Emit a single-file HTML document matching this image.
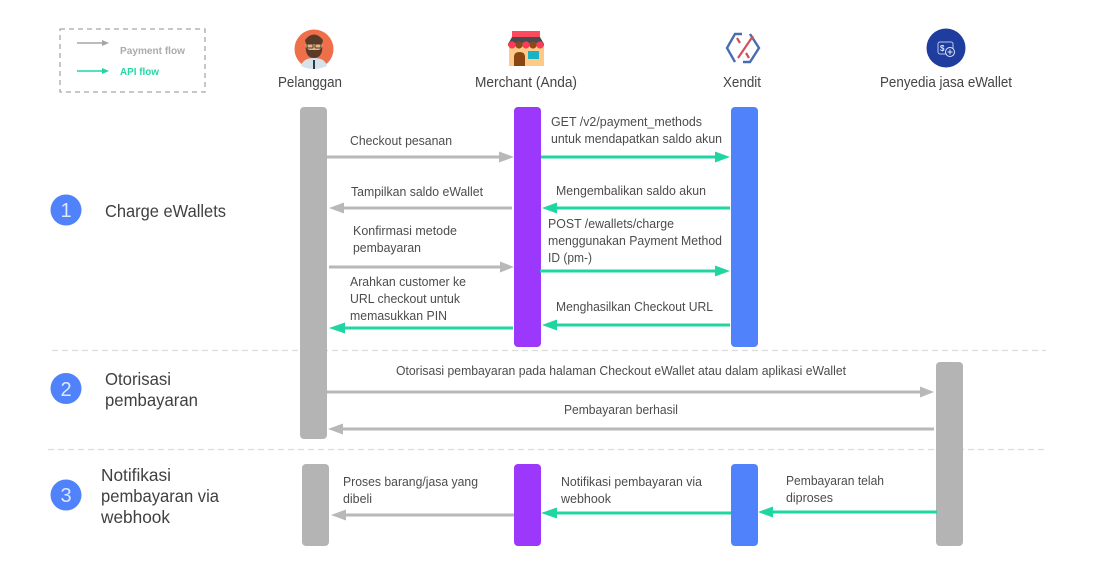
<!DOCTYPE html>
<html><head><meta charset="utf-8">
<style>
html,body{margin:0;padding:0;background:#fff;width:1120px;height:574px;overflow:hidden}
svg{display:block}
text{font-family:"Liberation Sans",sans-serif;font-size:13px;fill:#4c4c4c}
.h{font-size:14.5px;fill:#444}
.s{font-size:17.5px;fill:#404040}
.n{font-size:20px;fill:#dfe8ff;text-anchor:middle}
.l{font-size:10px;font-weight:bold}
.g{stroke:#b8b8b8;stroke-width:3;fill:none}
.t{stroke:#1fd6a2;stroke-width:3;fill:none}
</style></head><body>
<svg width="1120" height="574" viewBox="0 0 1120 574" xmlns="http://www.w3.org/2000/svg">
<rect x="60" y="29" width="145" height="63" fill="none" stroke="#a8a8a8" stroke-width="1.3" stroke-dasharray="5 4"/>
<path d="M77 43H104" stroke="#a5a5a5" stroke-width="1.5"/><path d="M102 40L109 43L102 46Z" fill="#a5a5a5"/>
<path d="M77 71H104" stroke="#1fd6a2" stroke-width="1.5"/><path d="M102 68L109 71L102 74Z" fill="#1fd6a2"/>
<text class="l" x="120" y="54" style="fill:#ababab" textLength="65" lengthAdjust="spacingAndGlyphs">Payment flow</text>
<text class="l" x="120" y="75" style="fill:#25d7a5" textLength="39" lengthAdjust="spacingAndGlyphs">API flow</text>

<circle cx="314" cy="49" r="19.5" fill="#ee6f4a"/>
<path d="M301 66Q303 58 314 58Q325 58 327 66Q320 69 314 69Q307 69 301 66Z" fill="#d4e3ea"/>
<rect x="313" y="60" width="2" height="9" fill="#2d3a42"/>
<ellipse cx="314" cy="47" rx="8.500" ry="10" fill="#e4b487"/>
<path d="M305 40Q314 29 323 40L322 44H306Z" fill="#5a3b28"/>
<path d="M305.500 47Q306 58 314 58Q322 58 322.500 47L319 50H309Z" fill="#5b3a26"/>
<rect x="307" y="44" width="6" height="4" rx="1" fill="none" stroke="#4d3a2c"/><rect x="315" y="44" width="6" height="4" rx="1" fill="none" stroke="#4d3a2c"/>

<rect x="509" y="46" width="35" height="20" fill="#ffc987"/>
<rect x="512" y="31" width="28" height="6" fill="#fd4a5c"/>
<path d="M512 37H540L544 44H508Z" fill="#4a4a50"/>
<rect x="508" y="43" width="36" height="3" fill="#fd3a58"/>
<circle cx="512" cy="45" r="3.6" fill="#fd3a58"/><circle cx="519" cy="45" r="3.6" fill="#8b4a18"/><circle cx="526" cy="45" r="3.6" fill="#fd3a58"/><circle cx="533" cy="45" r="3.6" fill="#8b4a18"/><circle cx="540" cy="45" r="3.6" fill="#fd3a58"/>
<path d="M514 66V57Q514 52 519.500 52Q525 52 525 57V66Z" fill="#8b4513"/>
<rect x="528" y="51" width="11" height="8" fill="#17b3c6"/>

<path d="M742 34H735L727 48L735 62" fill="none" stroke="#4a6cb3" stroke-width="2.4"/>
<path d="M750 34L759 48L750 62H743" fill="none" stroke="#4a6cb3" stroke-width="2.4"/>
<path d="M738 58L753 36M737 38L740 43M749 58L746 53" fill="none" stroke="#d0505c" stroke-width="2.2"/>

<circle cx="946" cy="48" r="19.500" fill="#1f3d9e"/>
<rect x="938" y="42" width="15" height="12" rx="2" fill="none" stroke="#b9c6ee" stroke-width="1"/>
<text x="940" y="51" style="font-size:8px;fill:#dfe6fb;font-weight:bold">$</text>
<circle cx="950" cy="52" r="4.500" fill="#1f3d9e" stroke="#dfe6fb"/><path d="M947.500 52H952.500M950 49.500V54.500" stroke="#dfe6fb"/>

<text class="h" x="278" y="87" textLength="64" lengthAdjust="spacingAndGlyphs">Pelanggan</text>
<text class="h" x="475" y="87" textLength="102" lengthAdjust="spacingAndGlyphs">Merchant (Anda)</text>
<text class="h" x="723" y="87" textLength="38" lengthAdjust="spacingAndGlyphs">Xendit</text>
<text class="h" x="880" y="87" textLength="132" lengthAdjust="spacingAndGlyphs">Penyedia jasa eWallet</text>

<path d="M52 350.500H1046M48 449.500H1048" stroke="#dcdcdc" stroke-width="1.2" stroke-dasharray="6 4"/>

<circle cx="66" cy="210" r="15.500" fill="#4f82fb"/><text class="n" x="66" y="217">1</text>
<circle cx="66" cy="388.500" r="15.500" fill="#4f82fb"/><text class="n" x="66" y="396">2</text>
<circle cx="66" cy="495" r="15.500" fill="#4f82fb"/><text class="n" x="66" y="502">3</text>
<text class="s" x="105" y="217" textLength="121" lengthAdjust="spacingAndGlyphs">Charge eWallets</text>
<text class="s" x="105" y="385" textLength="66" lengthAdjust="spacingAndGlyphs">Otorisasi</text>
<text class="s" x="105" y="406" textLength="93" lengthAdjust="spacingAndGlyphs">pembayaran</text>
<text class="s" x="101" y="481" textLength="70" lengthAdjust="spacingAndGlyphs">Notifikasi</text>
<text class="s" x="101" y="502" textLength="118" lengthAdjust="spacingAndGlyphs">pembayaran via</text>
<text class="s" x="101" y="523" textLength="69" lengthAdjust="spacingAndGlyphs">webhook</text>

<rect x="300" y="107" width="27" height="332" rx="4" fill="#b4b4b4"/>
<rect x="514" y="107" width="27" height="240" rx="4" fill="#9b38fb"/>
<rect x="731" y="107" width="27" height="240" rx="4" fill="#4f82fb"/>
<rect x="936" y="362" width="27" height="184" rx="4" fill="#b4b4b4"/>
<rect x="302" y="464" width="27" height="82" rx="4" fill="#b4b4b4"/>
<rect x="514" y="464" width="27" height="82" rx="4" fill="#9b38fb"/>
<rect x="731" y="464" width="27" height="82" rx="4" fill="#4f82fb"/>

<path class="g" d="M327 157H501"/><path d="M499 151.500L514 157L499 162.500Z" fill="#b8b8b8"/>
<path class="g" d="M342 208H512"/><path d="M344 202.500L329 208L344 213.500Z" fill="#b8b8b8"/>
<path class="g" d="M329 267H502"/><path d="M500 261.500L514 267L500 272.500Z" fill="#b8b8b8"/>
<path class="g" d="M327 392H922"/><path d="M920 386.500L934 392L920 397.500Z" fill="#b8b8b8"/>
<path class="g" d="M342 429H934"/><path d="M343 423.500L328 429L343 434.500Z" fill="#b8b8b8"/>
<path class="g" d="M344 515H514"/><path d="M346 509.500L331 515L346 520.500Z" fill="#b8b8b8"/>

<path class="t" d="M541 157H717"/><path d="M715 151.500L730 157L715 162.500Z" fill="#1fd6a2"/>
<path class="t" d="M556 208H730"/><path d="M557 202.500L542 208L557 213.500Z" fill="#1fd6a2"/>
<path class="t" d="M540 271H717"/><path d="M715 265.500L730 271L715 276.500Z" fill="#1fd6a2"/>
<path class="t" d="M343 328H513"/><path d="M345 322.500L329 328L345 333.500Z" fill="#1fd6a2"/>
<path class="t" d="M556 325H730"/><path d="M557 319.500L542 325L557 330.500Z" fill="#1fd6a2"/>
<path class="t" d="M556 513H731"/><path d="M557 507.500L541 513L557 518.500Z" fill="#1fd6a2"/>
<path class="t" d="M772 512H937"/><path d="M773 506.500L758 512L773 517.500Z" fill="#1fd6a2"/>

<text x="350" y="145" textLength="102" lengthAdjust="spacingAndGlyphs">Checkout pesanan</text>
<text x="351" y="196" textLength="132" lengthAdjust="spacingAndGlyphs">Tampilkan saldo eWallet</text>
<text x="353" y="235" textLength="104" lengthAdjust="spacingAndGlyphs">Konfirmasi metode</text>
<text x="353" y="252" textLength="68" lengthAdjust="spacingAndGlyphs">pembayaran</text>
<text x="350" y="286" textLength="116" lengthAdjust="spacingAndGlyphs">Arahkan customer ke</text>
<text x="350" y="303" textLength="110" lengthAdjust="spacingAndGlyphs">URL checkout untuk</text>
<text x="350" y="320" textLength="97" lengthAdjust="spacingAndGlyphs">memasukkan PIN</text>
<text x="551" y="126" textLength="151" lengthAdjust="spacingAndGlyphs">GET /v2/payment_methods</text>
<text x="551" y="143" textLength="171" lengthAdjust="spacingAndGlyphs">untuk mendapatkan saldo akun</text>
<text x="556" y="195" textLength="150" lengthAdjust="spacingAndGlyphs">Mengembalikan saldo akun</text>
<text x="548" y="228" textLength="126" lengthAdjust="spacingAndGlyphs">POST /ewallets/charge</text>
<text x="548" y="245" textLength="174" lengthAdjust="spacingAndGlyphs">menggunakan Payment Method</text>
<text x="548" y="262" textLength="44" lengthAdjust="spacingAndGlyphs">ID (pm-)</text>
<text x="556" y="311" textLength="157" lengthAdjust="spacingAndGlyphs">Menghasilkan Checkout URL</text>
<text x="396" y="375" textLength="450" lengthAdjust="spacingAndGlyphs">Otorisasi pembayaran pada halaman Checkout eWallet atau dalam aplikasi eWallet</text>
<text x="564" y="414" textLength="114" lengthAdjust="spacingAndGlyphs">Pembayaran berhasil</text>
<text x="343" y="486" textLength="135" lengthAdjust="spacingAndGlyphs">Proses barang/jasa yang</text>
<text x="343" y="503" textLength="29" lengthAdjust="spacingAndGlyphs">dibeli</text>
<text x="561" y="486" textLength="141" lengthAdjust="spacingAndGlyphs">Notifikasi pembayaran via</text>
<text x="561" y="503" textLength="50" lengthAdjust="spacingAndGlyphs">webhook</text>
<text x="786" y="485" textLength="98" lengthAdjust="spacingAndGlyphs">Pembayaran telah</text>
<text x="786" y="502" textLength="47" lengthAdjust="spacingAndGlyphs">diproses</text>
</svg>
</body></html>
